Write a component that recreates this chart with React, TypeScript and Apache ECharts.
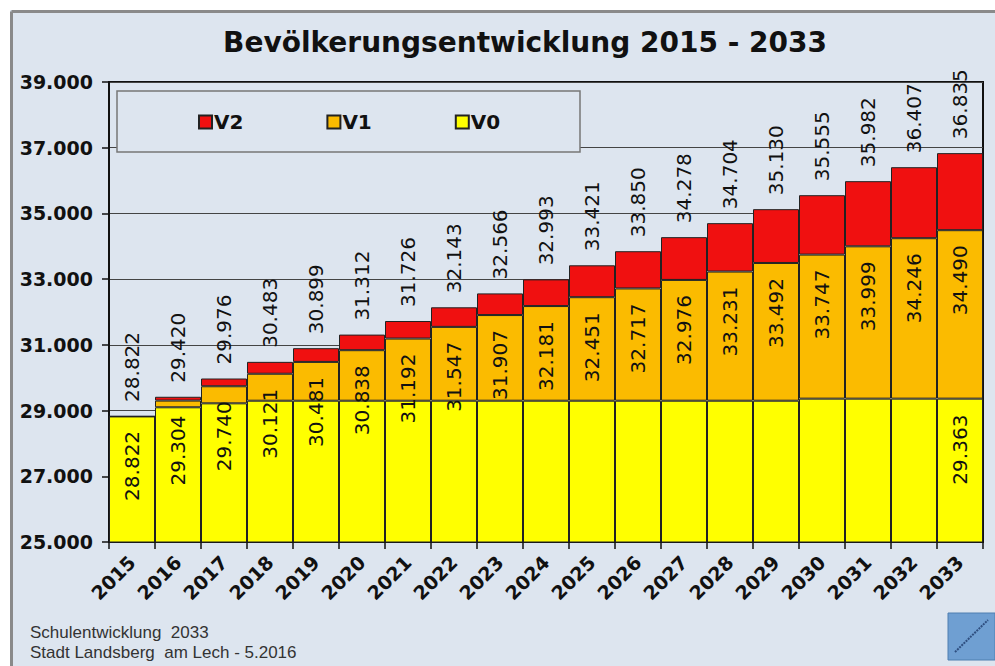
import React, { useEffect, useRef } from "react";
import * as echarts from "echarts";

const years = ["2015","2016","2017","2018","2019","2020","2021","2022","2023","2024","2025","2026","2027","2028","2029","2030","2031","2032","2033"];
const V2 = [28822, 29420, 29976, 30483, 30899, 31312, 31726, 32143, 32566, 32993, 33421, 33850, 34278, 34704, 35130, 35555, 35982, 36407, 36835];
const V1 = [28822, 29304, 29740, 30121, 30481, 30838, 31192, 31547, 31907, 32181, 32451, 32717, 32976, 33231, 33492, 33747, 33999, 34246, 34490];
const V0 = [28822, 29100, 29220, 29300, 29300, 29300, 29300, 29300, 29300, 29300, 29300, 29300, 29300, 29300, 29300, 29363, 29363, 29363, 29363];
const v0LabelYears = ["2033"];
const yTicks = { min: 25000, max: 39000, interval: 2000 };
const titleText = "Bevölkerungsentwicklung 2015 - 2033";
const footer1 = "Schulentwicklung  2033";
const footer2 = "Stadt Landsberg  am Lech - 5.2016";

const fmt = (v: number) => {
  const r = Math.round(v);
  return Math.floor(r / 1000) + "." + String(r % 1000).padStart(3, "0");
};

const BG = "#dde5ef";
const FONT = "DejaVu Sans";

export default function App() {
  const ref = useRef<HTMLDivElement>(null);
  useEffect(() => {
    if (!ref.current) return;
    const chart = echarts.init(ref.current, null, { renderer: "svg" });
    const d1 = V1.map((v, i) => v - V0[i]);
    const d2 = V2.map((v, i) => v - V1[i]);
    const border = { borderColor: "#222", borderWidth: 1 };
    const v0Data = V0.map((v, i) =>
      v0LabelYears.includes(years[i]) ? { value: v, label: { show: true } } : v
    );
    chart.setOption({
      animation: false,
      backgroundColor: BG,
      title: {
        text: titleText,
        left: 520,
        textAlign: "center",
        top: 23,
        textStyle: { fontFamily: FONT, fontWeight: "bold", fontSize: 28, color: "#111" },
      },
      legend: {
        data: ["V2", "V1", "V0"],
        left: 198,
        top: 112,
        padding: 0,
        icon: "rect",
        itemWidth: 13,
        itemHeight: 13,
        itemGap: 83,
        z: 5,
        textStyle: { fontFamily: FONT, fontWeight: "bold", fontSize: 20, color: "#111", padding: [0, 0, 0, -3] },
      },
      grid: {
        left: 109,
        right: 12,
        top: 82,
        bottom: 124,
        show: true,
        borderColor: "#111",
        borderWidth: 2,
        backgroundColor: "transparent",
      },
      xAxis: {
        type: "category",
        data: years,
        axisLine: { lineStyle: { color: "#111", width: 2 } },
        axisTick: { show: true, length: 7, lineStyle: { color: "#111", width: 1.5 }, alignWithLabel: false },
        axisLabel: {
          interval: 0,
          rotate: 45,
          margin: 17,
          fontFamily: FONT,
          fontWeight: "bold",
          fontSize: 19,
          color: "#111",
        },
      },
      yAxis: {
        type: "value",
        min: yTicks.min,
        max: yTicks.max,
        interval: yTicks.interval,
        axisLine: { show: true, lineStyle: { color: "#111", width: 2 } },
        axisTick: { show: true, length: 7, lineStyle: { color: "#111", width: 1.5 } },
        splitLine: { show: true, lineStyle: { color: "#444", width: 1 } },
        axisLabel: {
          margin: 16,
          fontFamily: FONT,
          fontWeight: "bold",
          fontSize: 19,
          color: "#111",
          formatter: (v: number) => fmt(v),
        },
      },
      series: [
        {
          name: "V0",
          type: "bar",
          stack: "s",
          barCategoryGap: "0%",
          data: v0Data,
          itemStyle: { color: "#ffff00", ...border },
          label: {
            show: false,
            position: "insideTop",
            rotate: 90,
            align: "right",
            verticalAlign: "middle",
            distance: 16,
            fontFamily: FONT,
            fontSize: 20,
            color: "#111",
            formatter: (p: any) => fmt(V0[p.dataIndex]),
          },
        },
        {
          name: "V1",
          type: "bar",
          stack: "s",
          barCategoryGap: "0%",
          data: d1,
          itemStyle: { color: "#fbbb00", ...border },
          label: {
            show: true,
            position: "insideTop",
            rotate: 90,
            align: "right",
            verticalAlign: "middle",
            distance: 15,
            fontFamily: FONT,
            fontSize: 20,
            color: "#111",
            formatter: (p: any) => fmt(V1[p.dataIndex]),
          },
        },
        {
          name: "V2",
          type: "bar",
          stack: "s",
          barCategoryGap: "0%",
          data: d2,
          itemStyle: { color: "#f01010", ...border },
          label: {
            show: true,
            position: "top",
            rotate: 90,
            align: "left",
            verticalAlign: "middle",
            distance: 14,
            fontFamily: FONT,
            fontSize: 20,
            color: "#111",
            formatter: (p: any) => fmt(V2[p.dataIndex]),
          },
        },
      ],
      graphic: [
        { type: "rect", z: 10, shape: { x: 0, y: 0, width: 995, height: 10 }, style: { fill: "#ffffff" } },
        { type: "rect", z: 10, shape: { x: 0, y: 0, width: 10, height: 666 }, style: { fill: "#ffffff" } },
        { type: "line", z: 10, shape: { x1: 11.5, y1: 11.5, x2: 995, y2: 11.5 }, style: { stroke: "#8a8a8a", lineWidth: 3 } },
        { type: "line", z: 10, shape: { x1: 11.5, y1: 11.5, x2: 11.5, y2: 666 }, style: { stroke: "#8a8a8a", lineWidth: 3 } },
        { type: "rect", z: 3, shape: { x: 117, y: 91, width: 463, height: 61 }, style: { fill: BG, stroke: "#777", lineWidth: 1.5 } },
        { type: "text", z: 10, x: 30, y: 632, style: { text: footer1, fontFamily: "Liberation Sans", fontSize: 17, fill: "#333", verticalAlign: "middle" } },
        { type: "text", z: 10, x: 30, y: 652, style: { text: footer2, fontFamily: "Liberation Sans", fontSize: 17, fill: "#333", verticalAlign: "middle" } },
        { type: "rect", z: 10, shape: { x: 948, y: 613, width: 47, height: 47 }, style: { fill: "#6f9fd2", stroke: "#4f7fb0", lineWidth: 1 } },
        { type: "line", z: 11, shape: { x1: 955, y1: 652, x2: 988, y2: 620 }, style: { stroke: "#2f4f80", lineWidth: 2, lineDash: [2, 1] } },
      ],
    });
    return () => chart.dispose();
  }, []);
  return <div ref={ref} style={{ position: "fixed", left: 0, top: 0, width: 995, height: 666 }} />;
}
